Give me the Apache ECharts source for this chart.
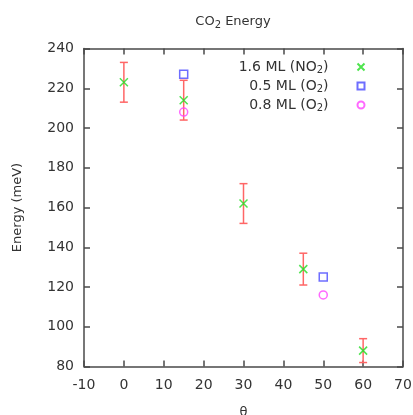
<!DOCTYPE html>
<html>
<head>
<meta charset="utf-8">
<script src="https://cdn.jsdelivr.net/npm/echarts@6/dist/echarts.min.js"></script>
<style>
  html, body { margin: 0; padding: 0; background: #fff; }
  #chart { width: 413px; height: 415px; }
</style>
</head>
<body>
<div id="chart"></div>
<script>
// données
const thetaNO2 = [0, 15, 30, 45, 60];
const energyNO2 = [223, 214, 162, 129, 88];
const errNO2 = [10, 10, 10, 8, 6];
const theta05 = [15, 50];
const energy05 = [227, 125];
const theta08 = [15, 50];
const energy08 = [208, 116];
const xTicks = { min: -10, max: 70, step: 10 };
const yTicks = { min: 80, max: 240, step: 20 };

const FONT = 'DejaVu Sans';
const TXT = '#333';
const C = { no2: '#22dd22', o05: '#4a4aff', o08: '#ff44ff', err: '#ff6666' };
const X_PATH = 'path://M0,0L10,10M10,0L0,10';

const SUB = { sub: { fontSize: 10, fontFamily: FONT, color: TXT, verticalAlign: 'bottom', padding: [7, 0, 0, 0] } };

const errData = thetaNO2.map((t, i) => [t, energyNO2[i] - errNO2[i], energyNO2[i] + errNO2[i]]);

const chart = echarts.init(document.getElementById('chart'));

const axisCommon = {
  axisLine: { show: true, onZero: false, lineStyle: { color: '#4a4a4a', width: 1.5 } },
  axisTick: { show: true, inside: true, length: 6, lineStyle: { color: '#4a4a4a', width: 1.5 } },
  splitLine: { show: false }
};

const legendItem = (name, label, top) => ({
  data: [name], right: 46, top: top, orient: 'vertical', align: 'right',
  padding: 0, itemWidth: 7, itemHeight: 7,
  formatter: () => label,
  textStyle: { fontFamily: FONT, fontSize: 14, color: TXT, padding: [0, 24, 0, 0], rich: SUB }
});

chart.setOption({
  animation: false,
  title: {
    text: 'CO{sub|2} Energy', left: 228, top: 8, textAlign: 'center',
    textStyle: { fontFamily: FONT, fontSize: 13, fontWeight: 'normal', color: TXT, rich: SUB }
  },
  legend: [
    legendItem('no2', '1.6 ML (NO{sub|2})', 60),
    legendItem('o05', '0.5 ML (O{sub|2})', 79),
    legendItem('o08', '0.8 ML (O{sub|2})', 98)
  ],
  grid: { left: 84, right: 10, top: 48.5, bottom: 48.5, outerBoundsMode: 'none' },
  xAxis: [
    Object.assign({
      type: 'value', min: xTicks.min, max: xTicks.max, interval: xTicks.step,
      name: 'θ', nameLocation: 'middle', nameGap: 40,
      nameTextStyle: { fontFamily: FONT, fontSize: 13, color: TXT },
      axisLabel: { fontFamily: FONT, fontSize: 14, color: TXT, margin: 12 }
    }, axisCommon),
    Object.assign({
      type: 'value', position: 'top', min: xTicks.min, max: xTicks.max, interval: xTicks.step,
      axisLabel: { show: false }
    }, axisCommon)
  ],
  yAxis: [
    Object.assign({
      type: 'value', min: yTicks.min, max: yTicks.max, interval: yTicks.step,
      name: 'Energy (meV)', nameLocation: 'middle', nameGap: 60,
      nameTextStyle: { fontFamily: FONT, fontSize: 13, color: TXT },
      axisLabel: { fontFamily: FONT, fontSize: 14, color: TXT, margin: 10 }
    }, axisCommon),
    Object.assign({
      type: 'value', position: 'right', min: yTicks.min, max: yTicks.max, interval: yTicks.step,
      axisLabel: { show: false }
    }, axisCommon)
  ],
  series: [
    {
      type: 'custom', name: 'err', data: errData, z: 1,
      renderItem: (params, api) => {
        const lo = api.coord([api.value(0), api.value(1)]);
        const hi = api.coord([api.value(0), api.value(2)]);
        const w = 4;
        const st = { stroke: C.err, lineWidth: 1.5 };
        return {
          type: 'group',
          children: [
            { type: 'line', shape: { x1: lo[0], y1: lo[1], x2: hi[0], y2: hi[1] }, style: st },
            { type: 'line', shape: { x1: lo[0] - w, y1: lo[1], x2: lo[0] + w, y2: lo[1] }, style: st },
            { type: 'line', shape: { x1: hi[0] - w, y1: hi[1], x2: hi[0] + w, y2: hi[1] }, style: st }
          ]
        };
      }
    },
    {
      type: 'scatter', name: 'no2', z: 3,
      data: thetaNO2.map((t, i) => [t, energyNO2[i]]),
      symbol: X_PATH, symbolSize: 8,
      itemStyle: { color: 'none', borderColor: C.no2, borderWidth: 1.5 }
    },
    {
      type: 'scatter', name: 'o05', z: 3,
      data: theta05.map((t, i) => [t, energy05[i]]),
      symbol: 'rect', symbolSize: 8,
      itemStyle: { color: 'none', borderColor: C.o05, borderWidth: 1.5 }
    },
    {
      type: 'scatter', name: 'o08', z: 3,
      data: theta08.map((t, i) => [t, energy08[i]]),
      symbol: 'circle', symbolSize: 8,
      itemStyle: { color: 'none', borderColor: C.o08, borderWidth: 1.5 }
    }
  ]
});
</script>
</body>
</html>
